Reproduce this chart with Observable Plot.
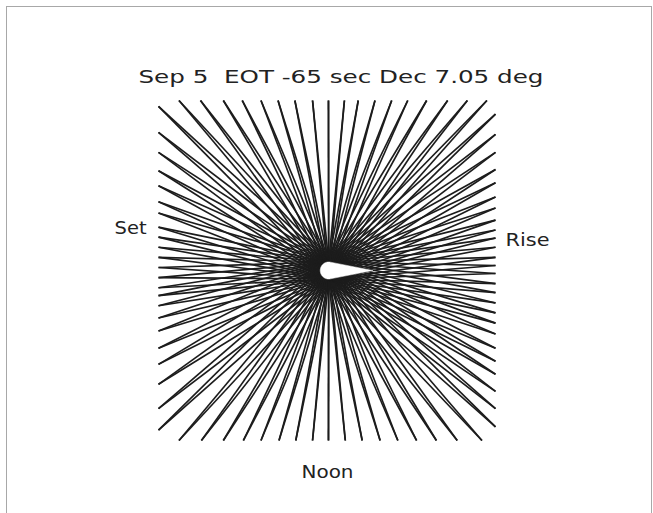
<!DOCTYPE html>
<html><head><meta charset="utf-8">
<script src="https://cdn.jsdelivr.net/npm/d3@7"></script>
<script src="https://cdn.jsdelivr.net/npm/@observablehq/plot@0.6"></script>
<style>
html,body{margin:0;padding:0;background:#fff;}
#wrap{position:relative;width:653px;height:513px;overflow:hidden;background:#fff;}
#chart{position:absolute;left:0;top:0;}
#border{position:absolute;left:6px;top:6px;width:646px;height:530px;border:1px solid #a8a8a8;box-sizing:border-box;pointer-events:none;}
</style></head><body>
<div id="wrap"><div id="chart"></div><div id="border"></div></div>
<script>
// ---- data ----
const title = "Sep 5  EOT -65 sec Dec 7.05 deg";
const labelSet = "Set";
const labelRise = "Rise";
const labelNoon = "Noon";
// direction of each hour line (degrees, counter-clockwise from the "Rise" side)
const lineAngles = [
  1.7, 4.4, 7.8, 10.8, 13.4, 16.5, 20.2, 23.4, 27.3, 30.7, 34.8, 38.7, 42.6,
  46.5, 50.2, 54.4, 59.4, 64.4, 69.0, 74.1, 79.5, 84.1, 89.5, 94.9, 100.8,
  106.2, 111.4, 116.7, 121.6, 126.9, 131.3, 136.0,
  140.9, 145.2, 149.6, 153.5, 158.0, 161.3, 165.7, 168.9, 172.2, 175.6, 179.0,
  182.4, 185.8, 188.4, 191.7, 195.6, 199.6, 204.6, 208.9, 213.8, 219.1, 223.2,
  228.7, 233.3, 238.4, 243.6, 248.6, 254.1, 259.5, 265.1, 270.5, 276.2, 281.8,
  287.5, 292.8, 298.0, 303.0, 307.7, 312.6, 317.4,
  320.9, 324.6, 328.6, 331.9, 335.4, 339.5, 342.8, 346.0, 349.2, 352.6, 355.6, 359.0
];
// each line is drawn from both edges of the gnomon (upper and lower)
const gnomonEdges = [1, -1];
// gnomon shadow (white teardrop): blunt-end centre x, radius, tip x (plot units)
const shadowBluntX = 0.01;
const shadowRadius = 0.05;
const shadowTipX = 0.27;

// ---- geometry ----
const rays = [];
for (const a of lineAngles) {
  const r = a * Math.PI / 180, c = Math.cos(r), s = Math.sin(r);
  const t = 1 / Math.max(Math.abs(c), Math.abs(s));
  for (const e of gnomonEdges) {
    rays.push({x1: shadowBluntX, y1: e * shadowRadius, x2: c * t, y2: s * t});
  }
}
const phi = Math.acos(shadowRadius / (shadowTipX - shadowBluntX));
const tear = [{x: shadowTipX, y: 0}];
for (let i = 0; i <= 40; i++) {
  const th = phi + (2 * Math.PI - 2 * phi) * i / 40;
  tear.push({x: shadowBluntX + shadowRadius * Math.cos(th), y: shadowRadius * Math.sin(th)});
}
tear.push({x: shadowTipX, y: 0});

const font = "DejaVu Sans";
const chart = Plot.plot({
  width: 653, height: 513,
  marginLeft: 158, marginRight: 158, marginTop: 100, marginBottom: 73,
  x: {domain: [-1, 1], axis: null},
  y: {domain: [-1, 1], axis: null},
  style: {background: "white", fontFamily: font},
  marks: [
    Plot.link(rays, {x1: "x1", y1: "y1", x2: "x2", y2: "y2", stroke: "#1c1c1c", strokeWidth: 1.65}),
    Plot.line(tear, {x: "x", y: "y", fill: "white", stroke: "white", strokeWidth: 0.5}),
    Plot.text([title], {x: 0.083, y: 1.135, text: d => d, fontSize: 18, fill: "#222", className: "t-title"}),
    Plot.text([labelSet], {x: -1.166, y: 0.247, text: d => d, fontSize: 18, fill: "#222", className: "t-set"}),
    Plot.text([labelRise], {x: 1.19, y: 0.176, text: d => d, fontSize: 18, fill: "#222", className: "t-rise"}),
    Plot.text([labelNoon], {x: 0.003, y: -1.188, text: d => d, fontSize: 18, fill: "#222", className: "t-noon"})
  ]
});
const svg = d3.select(chart);
svg.selectAll("text").style("white-space", "pre").attr("lengthAdjust", "spacingAndGlyphs");
svg.selectAll(".t-title text").attr("textLength", 405);
svg.selectAll(".t-set text").attr("textLength", 32);
svg.selectAll(".t-rise text").attr("textLength", 44);
svg.selectAll(".t-noon text").attr("textLength", 52);
document.getElementById("chart").appendChild(chart);
</script>
</body></html>
